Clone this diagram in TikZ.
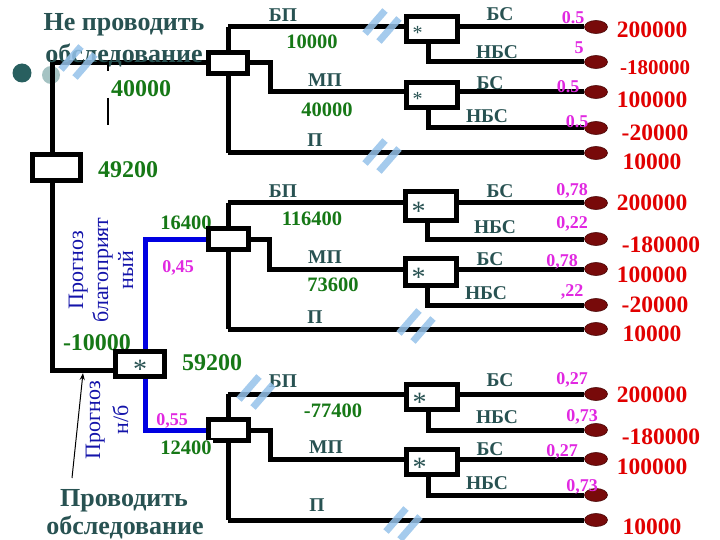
\documentclass[tikz,border=0pt]{standalone}
\usepackage{fontspec}
\setmainfont{Liberation Serif}
\usetikzlibrary{shapes.geometric,arrows.meta,calc}
\pgfdeclarelayer{wires}
\pgfsetlayers{wires,main}
\definecolor{slate}{RGB}{40,82,82}
\definecolor{grn}{RGB}{22,120,22}
\definecolor{mag}{RGB}{225,40,225}
\definecolor{payred}{RGB}{225,0,0}
\definecolor{txtblue}{RGB}{20,20,170}
\definecolor{wireblue}{RGB}{0,0,225}
\definecolor{termred}{RGB}{120,10,10}
\definecolor{slashblue}{RGB}{150,195,235}
\definecolor{dotdark}{RGB}{40,95,95}
\definecolor{dotlight}{RGB}{165,195,195}
\newcommand\stk{\raisebox{-0.32em}[0.38em][0pt]{*}}
\begin{document}
\begin{tikzpicture}[x=1pt,y=-1pt,
  wire/.style={line width=5pt,draw=black},
  bwire/.style={line width=5pt,draw=wireblue},
  dbox/.style={draw,line width=5pt,fill=white,minimum width=39pt,minimum height=21pt,inner sep=0pt},
  cbox/.style={draw,line width=5pt,fill=white,minimum height=25pt,text width=39pt,inner xsep=6pt,inner ysep=0pt,align=left,text=slate},
  term/.style={ellipse,fill=termred,draw=termred!60!black,line width=0.6pt,minimum width=23pt,minimum height=13pt,inner sep=0pt},
  slashline/.style={line width=7pt,draw=slashblue,opacity=0.85},
  title/.style={font=\bfseries\fontsize{26}{28}\selectfont,text=slate,inner sep=0pt},
  lbl/.style={font=\bfseries\fontsize{19.5}{21}\selectfont,text=slate,inner sep=0pt},
  grnS/.style={font=\bfseries\fontsize{20.5}{22}\selectfont,text=grn,inner sep=0pt},
  grnL/.style={font=\bfseries\fontsize{24}{26}\selectfont,text=grn,inner sep=0pt},
  prob/.style={font=\bfseries\fontsize{18}{20}\selectfont,text=mag,inner sep=0pt},
  pay/.style={font=\bfseries\fontsize{23.5}{25}\selectfont,text=payred,inner sep=0pt},
  rot/.style={font=\fontsize{22}{25}\selectfont,text=txtblue,rotate=90,align=center,inner sep=0pt}
]
\begin{pgfonlayer}{wires}
\fill[white] (0,0) rectangle (720,540);
\end{pgfonlayer}
\useasboundingbox (0,0) rectangle (720,540);

% ---------- texts on the left ----------
\node[title] (t1) at (124,25) {Не проводить};
\node[title] (t2) at (124,55) {обследование};
\node[grnL] (v40) at (141,89) {40000};
\node[grnL] (v49) at (128,170) {49200};
\node[rot] (fav) at (101,270) {Прогноз\\благоприят\\ный};
\node[grnL] (vm10) at (97,343) {-10000};
\node[grnL] (v59) at (212,363) {59200};
\node[grnS] (v164) at (186,223) {16400};
\node[prob] (p45) at (178,268) {0,45};
\node[prob] (p55) at (172,421) {0,55};
\node[rot,font=\fontsize{22}{28}\selectfont] (unf) at (107,420) {Прогноз\\н/б};
\node[title] (t3) at (124,501) {Проводить};
\node[title] (t4) at (125,527) {обследование};

% ---------- decision / chance boxes ----------
\node[dbox,minimum width=48pt,minimum height=26pt] (D0) at (56,168) {};
\node[dbox] (D1) at (228,63) {};
\node[dbox,minimum width=40pt,minimum height=20pt] (D2) at (228,239) {};
\node[dbox,minimum width=40pt] (D3) at (228,430) {};
\node[draw,line width=5pt,fill=white,minimum width=49pt,minimum height=25pt,inner sep=0pt,text=slate,font=\fontsize{28}{28}\selectfont] (S) at (140,364) {\stk};

\node[cbox,font=\fontsize{20}{20}\selectfont] (C1) at (432,29) {\stk};
\node[cbox,font=\fontsize{20}{20}\selectfont] (C2) at (432,95) {\stk};
\node[cbox,minimum height=29pt,font=\fontsize{28}{28}\selectfont] (C3) at (431,206) {\stk};
\node[cbox,minimum height=27pt,font=\fontsize{28}{28}\selectfont] (C4) at (431,272) {\stk};
\node[cbox,font=\fontsize{28}{28}\selectfont] (C5) at (432,397) {\stk};
\node[cbox,font=\fontsize{28}{28}\selectfont] (C6) at (432,462) {\stk};

% ---------- terminals ----------
\foreach \n/\yy in {1/27,2/62,3/92,4/128,5/153,6/203,7/239,8/269,9/305,10/329,11/394,12/430,13/459,14/495,15/520}
  \node[term] (T\n) at (596,\yy) {};

% ---------- wires ----------
\coordinate (top) at (52,63);
\coordinate (bot) at (52,370);
\coordinate (j1) at (228,27);  \coordinate (k1) at (228,153); \coordinate (m1) at (270,63);
\coordinate (j2) at (228,203); \coordinate (k2) at (228,329); \coordinate (m2) at (269,239);
\coordinate (j3) at (228,394); \coordinate (k3) at (228,520); \coordinate (m3) at (270,430);
\begin{pgfonlayer}{wires}
\node[circle,fill=dotdark,minimum size=19pt,inner sep=0pt] (dot1) at (22,73) {};
\node[circle,fill=dotlight,minimum size=18pt,inner sep=0pt] (dot2) at (51,75) {};
\draw[wire] (D1.west) -- (top) -- (bot) -- (S.west |- bot);
\draw[bwire] ([xshift=5pt]S.north) |- (D2.west);
\draw[bwire] ([xshift=5pt]S.south) |- (D3.west);
% top subtree
\draw[wire] (j1) -- (k1);
\draw[wire] (j1) -- (T1);
\draw[wire] (k1) -- (T5);
\draw[wire] (D1.east) -- (m1) |- (T3);
\draw[wire] ([xshift=-4pt]C1.south) |- (T2);
\draw[wire] ([xshift=-4pt]C2.south) |- (T4);
% middle subtree
\draw[wire] (j2) -- (k2);
\draw[wire] (j2) -- (T6);
\draw[wire] (k2) -- (T10);
\draw[wire] (D2.east) -- (m2) |- (T8);
\draw[wire] ([xshift=-4pt]C3.south) |- (T7);
\draw[wire] ([xshift=-4pt]C4.south) |- (T9);
% bottom subtree
\draw[wire] (j3) -- (k3);
\draw[wire] (j3) -- (T11);
\draw[wire] (k3) -- (T15);
\draw[wire] (D3.east) -- (m3) |- (T13);
\draw[wire] ([xshift=-4pt]C5.south) |- (T12);
\draw[wire] ([xshift=-4pt]C6.south) |- (T14);
\end{pgfonlayer}

\node[grnS,fill=white,inner sep=1pt] (v124) at (186,448) {12400};

% small marks near 40000
\draw[line width=2.5pt] (108,63) -- (108,71);
\draw[line width=2.5pt] (108,98) -- (108,125);

% arrow to the branch
\coordinate (atail) at (72,478);
\coordinate (ahead) at (83,373);
\draw[line width=1pt,-{Stealth[length=7pt,width=5pt]}] (atail) -- (ahead);

% ---------- branch labels ----------
\node[lbl] at (283,15) {БП};   \node[grnS] at (312,42) {10000};
\node[lbl] at (325,80) {МП};   \node[grnS] at (327,110) {40000};
\node[lbl] at (315,140) {П};
\node[lbl] at (283,191) {БП};  \node[grnS] at (312,219) {116400};
\node[lbl] at (325,257) {МП};  \node[grnS] at (333,285) {73600};
\node[lbl] at (315,317) {П};
\node[lbl] at (283,381) {БП};  \node[grnS] at (333,411) {-77400};
\node[lbl] at (326,447) {МП};
\node[lbl] at (317,505) {П};

% outcome labels
\node[lbl] at (500,14) {БС};  \node[lbl] at (497,52) {НБС};
\node[lbl] at (490,83) {БС};  \node[lbl] at (487,116) {НБС};
\node[lbl] at (500,191) {БС}; \node[lbl] at (495,227) {НБС};
\node[lbl] at (490,259) {БС}; \node[lbl] at (486,293) {НБС};
\node[lbl] at (500,380) {БС}; \node[lbl] at (497,417) {НБС};
\node[lbl] at (490,449) {БС}; \node[lbl] at (487,483) {НБС};

% probabilities
\node[prob] at (573,18) {0.5};  \node[prob] at (579,48) {5};
\node[prob] at (568,87) {0.5};  \node[prob] at (577,122) {0.5};
\node[prob] at (572,191) {0,78}; \node[prob] at (572,224) {0,22};
\node[prob] at (562,262) {0,78}; \node[prob] at (572,292) {,22};
\node[prob] at (572,380) {0,27}; \node[prob] at (582,417) {0,73};
\node[prob] at (562,452) {0,27}; \node[prob] at (582,487) {0,73};

% payoffs
\node[pay] at (652,30) {200000};
\node[pay,font=\bfseries\fontsize{21}{23}\selectfont] at (655,68) {-180000};
\node[pay] at (652,100) {100000};
\node[pay] at (655,133) {-20000};
\node[pay] at (652,162) {10000};
\node[pay] at (652,203) {200000};
\node[pay] at (661,245) {-180000};
\node[pay] at (652,275) {100000};
\node[pay] at (655,305) {-20000};
\node[pay] at (652,334) {10000};
\node[pay] at (652,395) {200000};
\node[pay] at (661,437) {-180000};
\node[pay] at (652,467) {100000};
\node[pay] at (652,527) {10000};

% ---------- blocked-branch marks ----------
\foreach \cx/\cy in {78/62,382/26,382/156,416/326,256/392,403/524}{
  \draw[slashline] ($(\cx,\cy)+(-17,7.5)$) -- ($(\cx,\cy)+(3,-15.5)$);
  \draw[slashline] ($(\cx,\cy)+(-3,15.5)$) -- ($(\cx,\cy)+(17,-7.5)$);
}
\end{tikzpicture}
\end{document}
